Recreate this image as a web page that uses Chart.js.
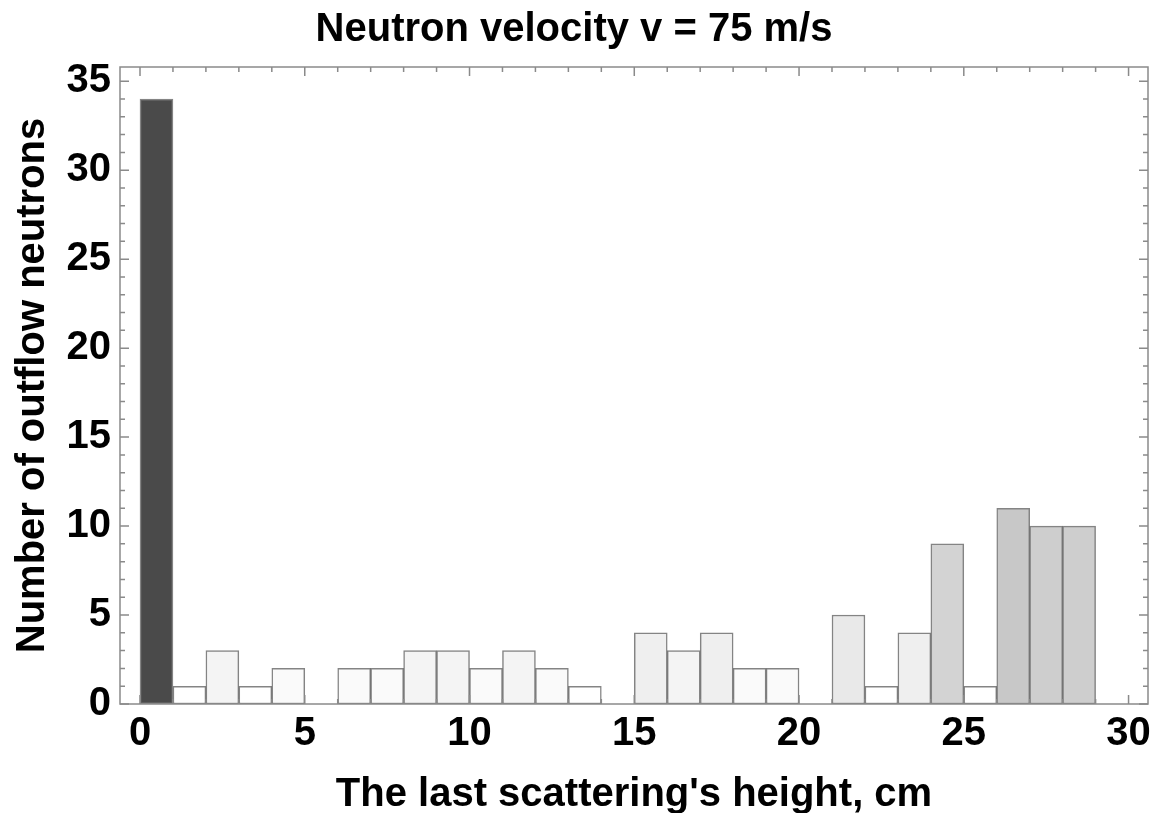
<!DOCTYPE html>
<html>
<head>
<meta charset="utf-8">
<script src="https://cdn.jsdelivr.net/npm/chart.js@4.4.1/dist/chart.umd.min.js"></script>
<style>
  body { margin: 0; background: #fff; }
  #wrap { width: 1152px; height: 813px; }
</style>
</head>
<body>
<div id="wrap"><canvas id="hist" width="1152" height="813"></canvas></div>
<script>
// histogram bins (left edge, cm) and the number of neutrons in each
const binStarts = [0, 1, 2, 3, 4, 5, 6, 7, 8, 9, 10, 11, 12, 13, 14,
                   15, 16, 17, 18, 19, 20, 21, 22, 23, 24, 25, 26, 27, 28];
const counts    = [34, 1, 3, 1, 2, 0, 2, 2, 3, 3, 2, 3, 2, 1, 0,
                   4, 3, 4, 2, 2, 0, 5, 1, 4, 9, 1, 11, 10, 10];
const xTickLabels = [0, 5, 10, 15, 20, 25, 30];
const yTickLabels = [0, 5, 10, 15, 20, 25, 30, 35];

const FONT = "'Liberation Sans', Arial, sans-serif";

// shade each bar by its height: lowest -> white, highest -> dark gray
const shade = (c) => {
    const nz = counts.filter((v) => v > 0);
    const lo = Math.min(...nz), hi = Math.max(...nz);
    const g = Math.round(255 - (255 - 74) * (c - lo) / (hi - lo));
    return 'rgb(' + g + ',' + g + ',' + g + ')';
};

const points = [];
binStarts.forEach((b, i) => {
    if (counts[i] > 0) points.push({ x: b + 0.5, y: counts[i] });
});

// frame around the plot with inward major/minor ticks on all four sides
const frameTicks = {
    id: 'frameTicks',
    afterDatasetsDraw(chart) {
        const { ctx, chartArea: a, scales: { x, y } } = chart;
        ctx.save();
        ctx.strokeStyle = '#8a8a8a';
        ctx.lineWidth = 1.5;
        ctx.beginPath();
        for (let v = Math.ceil(x.min); v <= x.max; v++) {
            const px = x.getPixelForValue(v);
            const len = v % 5 === 0 ? 9 : 5;
            ctx.moveTo(px, a.bottom); ctx.lineTo(px, a.bottom - len);
            ctx.moveTo(px, a.top); ctx.lineTo(px, a.top + len);
        }
        for (let v = Math.ceil(y.min); v <= y.max; v++) {
            const py = y.getPixelForValue(v);
            const len = v % 5 === 0 ? 9 : 5;
            ctx.moveTo(a.left, py); ctx.lineTo(a.left + len, py);
            ctx.moveTo(a.right, py); ctx.lineTo(a.right - len, py);
        }
        ctx.stroke();
        ctx.strokeRect(a.left, a.top, a.right - a.left, a.bottom - a.top);
        ctx.restore();
    }
};

new Chart(document.getElementById('hist'), {
    type: 'bar',
    data: {
        datasets: [{
            data: points,
            backgroundColor: points.map((p) => shade(p.y)),
            borderColor: 'rgba(80,80,80,0.7)',
            borderWidth: 1.5,
            borderSkipped: false,
            barPercentage: 1,
            categoryPercentage: 1
        }]
    },
    options: {
        responsive: false,
        animation: false,
        layout: { padding: { left: 0, right: 4, top: 0, bottom: 0 } },
        scales: {
            x: {
                type: 'linear',
                offset: false,
                min: -0.607,
                max: 30.59,
                afterFit: (s) => { s.height = 109; s.paddingLeft = 0; s.paddingRight = 0; },
                afterBuildTicks: (s) => { s.ticks = xTickLabels.map((v) => ({ value: v })); },
                grid: { display: false, drawTicks: false, offset: false },
                border: { display: false },
                ticks: {
                    color: '#000',
                    padding: 6,
                    maxRotation: 0,
                    font: { family: FONT, size: 40, weight: 'bold' }
                },
                title: {
                    display: true,
                    text: "The last scattering's height, cm",
                    color: '#000',
                    padding: { top: 0, bottom: -2 },
                    font: { family: FONT, size: 40, weight: 'bold', lineHeight: 1 }
                }
            },
            y: {
                type: 'linear',
                min: 0,
                max: 35.8,
                afterFit: (s) => { s.width = 120; },
                afterBuildTicks: (s) => { s.ticks = yTickLabels.map((v) => ({ value: v })); },
                grid: { display: false, drawTicks: false },
                border: { display: false },
                ticks: {
                    color: '#000',
                    padding: 9,
                    font: { family: FONT, size: 40, weight: 'bold' }
                },
                title: {
                    display: true,
                    text: 'Number of outflow neutrons',
                    color: '#000',
                    padding: { top: 9, bottom: 0 },
                    font: { family: FONT, size: 40, weight: 'bold' }
                }
            }
        },
        plugins: {
            legend: { display: false },
            tooltip: { enabled: false },
            title: {
                display: true,
                text: 'Neutron velocity v = 75 m/s',
                color: '#000',
                padding: { top: 6, bottom: 13 },
                font: { family: FONT, size: 40, weight: 'bold' }
            }
        }
    },
    plugins: [frameTicks]
});
</script>
</body>
</html>
